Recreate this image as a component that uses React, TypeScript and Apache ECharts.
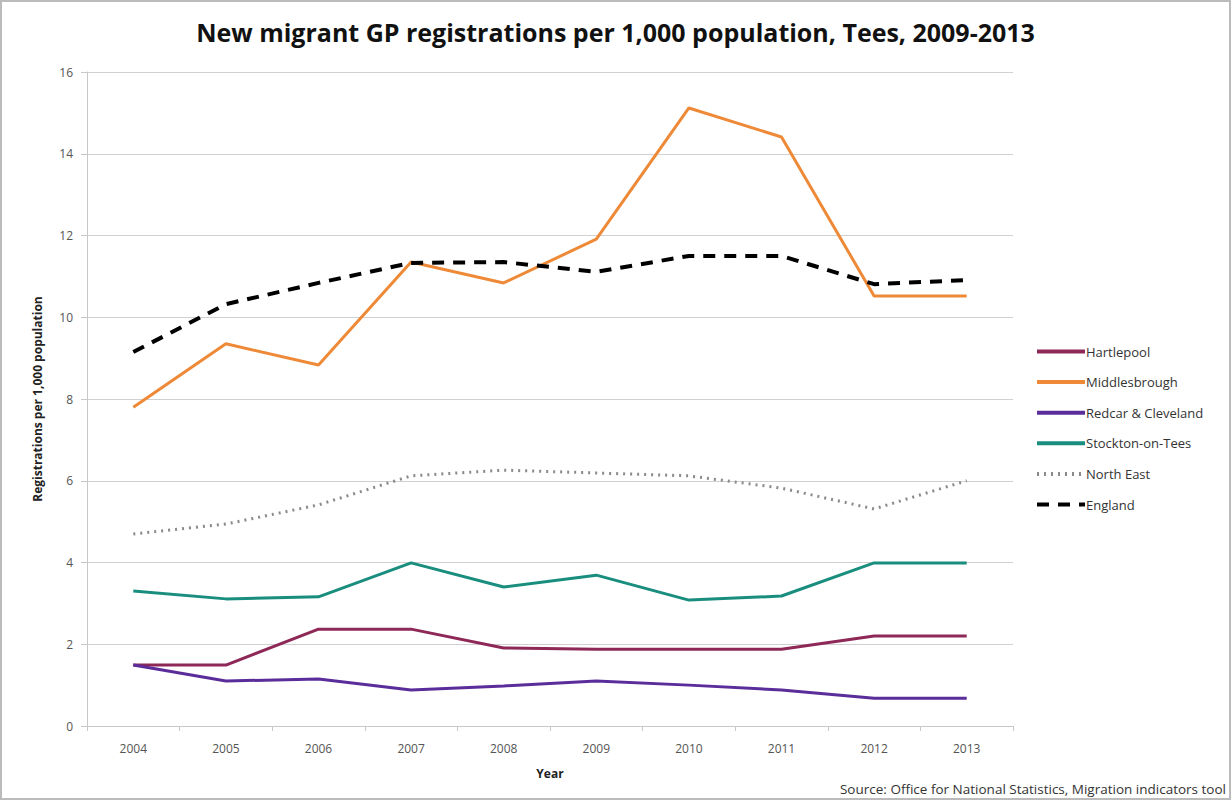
import React, { useEffect, useRef } from "react";
import * as echarts from "echarts";

const years = ["2004", "2005", "2006", "2007", "2008", "2009", "2010", "2011", "2012", "2013"];
const hartlepool = [1.49, 1.49, 2.37, 2.37, 1.91, 1.88, 1.88, 1.88, 2.2, 2.2];
const middlesbrough = [7.8, 9.35, 8.83, 11.35, 10.84, 11.91, 15.12, 14.41, 10.52, 10.52];
const redcar = [1.49, 1.1, 1.15, 0.88, 0.98, 1.1, 1.0, 0.88, 0.68, 0.68];
const stockton = [3.3, 3.11, 3.16, 3.99, 3.4, 3.69, 3.08, 3.18, 3.99, 3.99];
const northEast = [4.7, 4.94, 5.41, 6.12, 6.26, 6.19, 6.12, 5.82, 5.31, 6.0];
const england = [9.15, 10.32, 10.84, 11.33, 11.35, 11.11, 11.5, 11.5, 10.81, 10.91];

const font = "'Open Sans', 'Noto Sans', sans-serif";

export default function App() {
  const ref = useRef<HTMLDivElement>(null);
  useEffect(() => {
    const chart = echarts.init(ref.current!, null, { renderer: "svg" });
    const mk = (name: string, data: number[], color: string, width: number, type: any) => ({
      name,
      type: "line",
      data,
      symbol: "none",
      lineStyle: { color, width, type },
      itemStyle: { color },
    });
    chart.setOption({
      animation: false,
      backgroundColor: "#fff",
      title: {
        text: "New migrant GP registrations per 1,000 population, Tees, 2009-2013",
        left: "center",
        top: 14,
        textStyle: { fontFamily: font, fontSize: 25, fontWeight: "bold", color: "#111" },
      },
      grid: { left: 87, right: 218, top: 72, bottom: 74 },
      legend: {
        orient: "vertical",
        left: 1030,
        top: 340,
        itemWidth: 48,
        itemHeight: 10,
        itemGap: 17.6,
        itemStyle: { opacity: 0 },
        lineStyle: { width: 4 },
        textStyle: { fontFamily: font, fontSize: 13, color: "#333", padding: [0, 0, 0, -4] },
        data: ["Hartlepool", "Middlesbrough", "Redcar & Cleveland", "Stockton-on-Tees", "North East", "England"],
      },
      xAxis: {
        type: "category",
        data: years,
        boundaryGap: true,
        name: "Year",
        nameLocation: "middle",
        nameGap: 41,
        nameTextStyle: { fontFamily: font, fontSize: 12, fontWeight: "bold", color: "#222" },
        axisLine: { lineStyle: { color: "#c8c8c8" } },
        axisTick: { show: true, length: 5, lineStyle: { color: "#c8c8c8" } },
        axisLabel: { fontFamily: font, fontSize: 12, color: "#555", margin: 16 },
      },
      yAxis: {
        type: "value",
        min: 0,
        max: 16,
        interval: 2,
        name: "Registrations per 1,000 population",
        nameLocation: "middle",
        nameGap: 44,
        nameTextStyle: { fontFamily: font, fontSize: 12, fontWeight: "bold", color: "#222" },
        axisLine: { show: true, lineStyle: { color: "#c8c8c8" } },
        axisTick: { show: true, length: 6, lineStyle: { color: "#c8c8c8" } },
        axisLabel: { fontFamily: font, fontSize: 12, color: "#555", margin: 14 },
        splitLine: { lineStyle: { color: "#d0d0d0" } },
      },
      series: [
        mk("Hartlepool", hartlepool, "#8e2857", 3, "solid"),
        mk("Middlesbrough", middlesbrough, "#ee8a37", 3, "solid"),
        mk("Redcar & Cleveland", redcar, "#5a2d9b", 3, "solid"),
        mk("Stockton-on-Tees", stockton, "#1a8e7e", 3, "solid"),
        mk("North East", northEast, "#8a8a8a", 3, [2, 5]),
        mk("England", england, "#000000", 4, [12, 9]),
      ],
      graphic: [
        {
          type: "text",
          right: 5,
          bottom: 4,
          style: {
            text: "Source: Office for National Statistics, Migration indicators tool",
            fontFamily: font,
            fontSize: 13.5,
            fill: "#333",
          },
        },
        {
          type: "rect",
          shape: { x: 1, y: 1, width: 1229, height: 798 },
          style: { fill: "none", stroke: "#bbb", lineWidth: 2 },
        },
      ],
    });
    return () => chart.dispose();
  }, []);
  return <div ref={ref} style={{ width: 1231, height: 800, position: "absolute", left: 0, top: 0 }} />;
}
